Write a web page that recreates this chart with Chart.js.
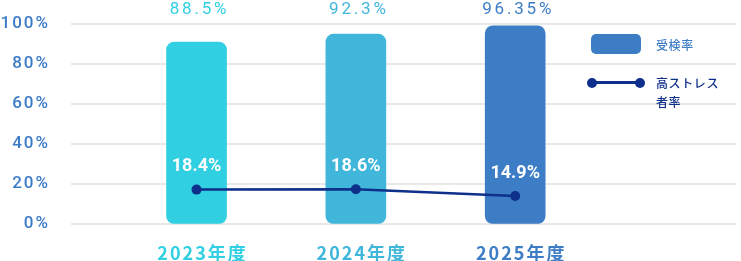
<!DOCTYPE html>
<html lang="ja">
<head>
<meta charset="utf-8">
<script src="https://cdn.jsdelivr.net/npm/chart.js@4.4.1/dist/chart.umd.min.js"></script>
<style>
  body { margin: 0; background: #fff; overflow: hidden; }
  #wrap { position: relative; width: 741px; height: 261px; }
  .legend-box { position: absolute; left: 591px; top: 34px; width: 50px; height: 20px; border-radius: 5px; background: #3d7dc6; }
  .legend-line { position: absolute; left: 592px; top: 81px; width: 48px; height: 2.5px; background: #0e2f8a; }
  .legend-dot { position: absolute; top: 77.5px; width: 10px; height: 10px; border-radius: 50%; background: #0e2f8a; }
  .legend-text { position: absolute; left: 656px; font-family: "Noto Sans CJK JP", sans-serif; font-size: 12px; font-weight: 500; letter-spacing: 0.6px; line-height: 19px; }
</style>
</head>
<body>
<div id="wrap">
  <canvas id="myChart" width="741" height="261"></canvas>
  <div class="legend-box"></div>
  <div class="legend-text" style="top:34.5px;color:#3d7dc6;">受検率</div>
  <div class="legend-line"></div>
  <div class="legend-dot" style="left:587px;"></div>
  <div class="legend-dot" style="left:635px;"></div>
  <div class="legend-text" style="top:72.5px;color:#0e2f8a;">高ストレス<br>者率</div>
</div>
<script>
// データ
const years = ['2023年度', '2024年度', '2025年度'];
const examRate = [88.5, 92.3, 96.35];     // 受検率
const stressRate = [18.4, 18.6, 14.9];    // 高ストレス者率
const yTicks = [0, 20, 40, 60, 80, 100];
const barColors = ['#30cfe1', '#40b6da', '#3d7dc6'];
const lineColor = '#0e2f8a';

// 値ラベルの描画
const valueLabels = {
  id: 'valueLabels',
  beforeDraw(chart) {
    chart.ctx.letterSpacing = '2px';
  },
  afterDatasetsDraw(chart) {
    const ctx = chart.ctx;
    const bars = chart.getDatasetMeta(1).data;
    const points = chart.getDatasetMeta(0).data;

    ctx.save();
    ctx.textAlign = 'center';
    ctx.textBaseline = 'middle';

    ctx.font = '400 17px Roboto';
    ctx.letterSpacing = '2.8px';
    bars.forEach((bar, i) => {
      ctx.fillStyle = barColors[i];
      ctx.fillText(examRate[i] + '%', bar.x + 3, 10);
    });

    ctx.font = 'bold 18px Roboto';
    ctx.letterSpacing = '0px';
    ctx.fillStyle = '#fff';
    points.forEach((pt, i) => {
      ctx.fillText(stressRate[i] + '%', pt.x, pt.y - 23);
    });
    ctx.restore();
  }
};

new Chart(document.getElementById('myChart'), {
  type: 'bar',
  data: {
    datasets: [
      {
        type: 'line',
        label: '高ストレス者率',
        data: stressRate.map((v, i) => ({ x: i, y: v })),
        yAxisID: 'yLine',
        borderColor: lineColor,
        backgroundColor: lineColor,
        borderWidth: 2.5,
        pointRadius: 5,
        pointBackgroundColor: lineColor,
        pointBorderWidth: 0,
        tension: 0,
        order: 0
      },
      {
        label: '受検率',
        data: examRate.map((v, i) => ({ x: i, y: v })),
        yAxisID: 'yBar',
        backgroundColor: barColors,
        borderRadius: 8,
        borderSkipped: false,
        barThickness: 60,
        order: 1
      }
    ]
  },
  options: {
    responsive: false,
    animation: false,
    layout: { padding: { top: 23.5, right: 0, left: 0, bottom: 0 } },
    plugins: {
      legend: { display: false },
      tooltip: { enabled: false }
    },
    scales: {
      x: {
        type: 'linear',
        offset: false,
        min: -0.788,
        max: 3.386,
        grid: { display: false },
        border: { display: false },
        afterBuildTicks: axis => {
          axis.ticks = years.map((y, i) => ({ value: i }));
        },
        afterFit: scale => { scale.height = 37.3; },
        ticks: {
          padding: 11,
          labelOffset: 6,
          maxRotation: 0,
          autoSkip: false,
          color: c => barColors[c.index] || barColors[0],
          font: { family: '"Noto Sans CJK JP"', size: 18, weight: 'bold' },
          callback: v => years[v]
        }
      },
      y: {
        min: 0,
        max: 100,
        afterBuildTicks: axis => {
          axis.ticks = yTicks.map(v => ({ value: v }));
        },
        afterFit: scale => {
          scale.width = 71;
          scale.paddingTop = 0;
          scale.paddingBottom = 0;
        },
        grid: { color: '#e8e8e8', lineWidth: 2, drawTicks: false },
        border: { display: false },
        ticks: {
          padding: 21,
          color: '#3b7bc8',
          font: { family: 'Roboto', size: 17, weight: 500 },
          callback: v => v + '%'
        }
      },
      yBar: { min: 0, max: 97.5, display: false },
      yLine: { min: 0, max: 108, display: false }
    }
  },
  plugins: [valueLabels]
});
</script>
</body>
</html>
